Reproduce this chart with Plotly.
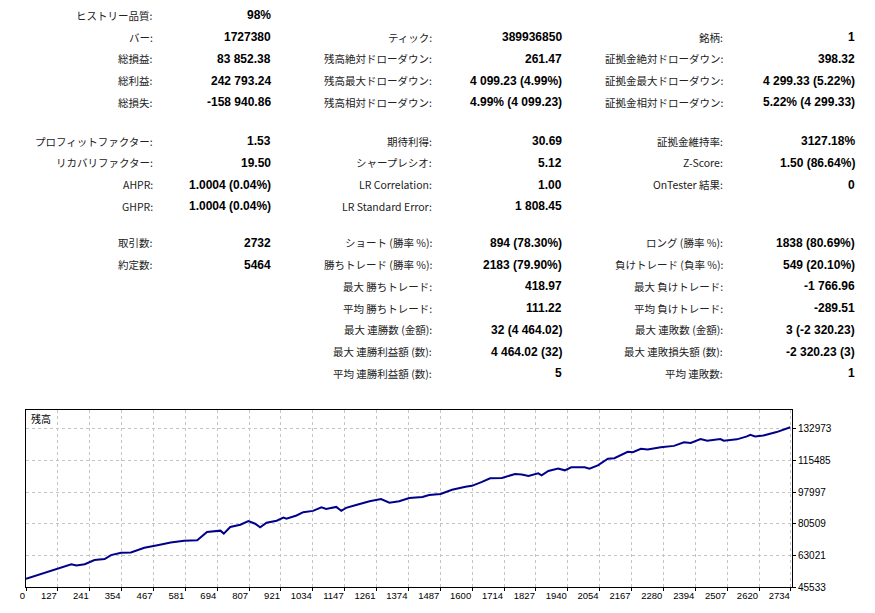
import plotly.graph_objects as go

# ---- 結果テーブル: [ラベル1, 値1, ラベル2, 値2, ラベル3, 値3] ----
block1 = [
    ["ヒストリー品質:", "98%", "", "", "", ""],
    ["バー:", "1727380", "ティック:", "389936850", "銘柄:", "1"],
    ["総損益:", "83 852.38", "残高絶対ドローダウン:", "261.47", "証拠金絶対ドローダウン:", "398.32"],
    ["総利益:", "242 793.24", "残高最大ドローダウン:", "4 099.23 (4.99%)", "証拠金最大ドローダウン:", "4 299.33 (5.22%)"],
    ["総損失:", "-158 940.86", "残高相対ドローダウン:", "4.99% (4 099.23)", "証拠金相対ドローダウン:", "5.22% (4 299.33)"],
]
block2 = [
    ["プロフィットファクター:", "1.53", "期待利得:", "30.69", "証拠金維持率:", "3127.18%"],
    ["リカバリファクター:", "19.50", "シャープレシオ:", "5.12", "Z-Score:", "1.50 (86.64%)"],
    ["AHPR:", "1.0004 (0.04%)", "LR Correlation:", "1.00", "OnTester 結果:", "0"],
    ["GHPR:", "1.0004 (0.04%)", "LR Standard Error:", "1 808.45", "", ""],
]
block3 = [
    ["取引数:", "2732", "ショート (勝率 %):", "894 (78.30%)", "ロング (勝率 %):", "1838 (80.69%)"],
    ["約定数:", "5464", "勝ちトレード (勝率 %):", "2183 (79.90%)", "負けトレード (負率 %):", "549 (20.10%)"],
    ["", "", "最大 勝ちトレード:", "418.97", "最大 負けトレード:", "-1 766.96"],
    ["", "", "平均 勝ちトレード:", "111.22", "平均 負けトレード:", "-289.51"],
    ["", "", "最大 連勝数 (金額):", "32 (4 464.02)", "最大 連敗数 (金額):", "3 (-2 320.23)"],
    ["", "", "最大 連勝利益額 (数):", "4 464.02 (32)", "最大 連敗損失額 (数):", "-2 320.23 (3)"],
    ["", "", "平均 連勝利益額 (数):", "5", "平均 連敗数:", "1"],
]

# ---- 残高カーブ ----
trade_no = [0, 44, 103, 162, 180, 210, 245, 281, 304, 340, 375, 423, 470, 517, 565, 612,
            647, 695, 707, 730, 766, 795, 819, 837, 860, 896, 920, 931, 967, 991, 1026,
            1056, 1073, 1109, 1127, 1144, 1180, 1228, 1269, 1299, 1334, 1370, 1417, 1441,
            1482, 1500, 1523, 1571, 1594, 1630, 1659, 1701, 1719, 1748, 1772, 1796, 1831,
            1843, 1867, 1902, 1926, 1949, 1997, 2014, 2044, 2080, 2103, 2151, 2169, 2198,
            2222, 2269, 2316, 2352, 2376, 2411, 2435, 2482, 2494, 2541, 2577, 2589, 2606,
            2636, 2683, 2732]
balance = [50000, 52260, 54990, 58100, 57390, 58100, 60450, 61000, 63180, 64500, 64660,
           67230, 68650, 70130, 71050, 71380, 75970, 76680, 75040, 78700, 79960, 81980,
           80510, 78490, 81060, 82150, 83950, 83240, 85050, 86900, 87610, 89630, 88710,
           89800, 87610, 89250, 90890, 92910, 94170, 92150, 92910, 94720, 95260, 96360,
           96900, 97830, 99260, 100900, 101440, 103630, 105650, 105810, 106580, 108000,
           107670, 106910, 108380, 107290, 109640, 110950, 110020, 111660, 111660, 110950,
           112750, 116420, 116740, 120240, 120020, 121880, 121500, 122750, 123520, 125490,
           125160, 127340, 126420, 127340, 126420, 127130, 128770, 129690, 128770, 129310,
           131160, 133852]

x_labels = ["0", "127", "241", "354", "467", "581", "694", "807", "921", "1034", "1147",
            "1261", "1374", "1487", "1600", "1714", "1827", "1940", "2054", "2167", "2280",
            "2394", "2507", "2620", "2734"]
y_ticks = [45533, 63021, 80509, 97997, 115485, 132973]

# page body has an 8px margin, so the figure is shrunk by that much
OFF = 8
W, H = 875, 613
L, R, T, B = 21, 83, 410, 24
x_max = 2738
x_step = 2734 / 24


def px(x):
    return (x - L) / (W - L - R)


def py(y):
    return (H - B - y) / (H - T - B)


label_font = dict(family="Noto Sans CJK JP", size=10.5, color="#222222")
value_font = dict(family="Liberation Sans", size=12, color="#000000")

label_right = [151, 432, 725]
value_right = [270, 563, 857]

annotations = []
for block, y0 in [(block1, 11), (block2, 138), (block3, 241)]:
    for i, row in enumerate(block):
        y = y0 + i * 22
        for c in range(3):
            lab, val = row[2 * c], row[2 * c + 1]
            if lab:
                annotations.append(dict(x=px(label_right[c]), y=py(y), text=lab,
                                        xanchor="right", yanchor="middle",
                                        font=label_font, showarrow=False,
                                        xref="paper", yref="paper"))
            if val:
                annotations.append(dict(x=px(value_right[c]), y=py(y), text="<b>" + val + "</b>",
                                        xanchor="right", yanchor="middle",
                                        font=value_font, showarrow=False,
                                        xref="paper", yref="paper"))

annotations.append(dict(x=px(24), y=py(419), text="残高", xanchor="left", yanchor="middle",
                        font=dict(family="Noto Sans CJK JP", size=10, color="#000000"),
                        showarrow=False, xref="paper", yref="paper"))

fig = go.Figure()
fig.add_trace(go.Scatter(x=trade_no, y=balance, mode="lines",
                         line=dict(color="#00008b", width=2), showlegend=False))

fig.update_layout(
    width=W - OFF, height=H - OFF,
    margin=dict(l=L - OFF, r=R, t=T - OFF, b=B, pad=0),
    paper_bgcolor="white", plot_bgcolor="white",
    annotations=annotations,
)
fig.update_xaxes(
    range=[0, x_max],
    tickvals=[k * x_step for k in range(len(x_labels))], ticktext=x_labels,
    ticklabelposition="outside left",
    showgrid=True, gridcolor="#c4c4c4", griddash="3px,3px", gridwidth=1,
    showline=True, linecolor="black", linewidth=1, mirror=True,
    ticks="outside", ticklen=3, tickcolor="black",
    tickfont=dict(family="Liberation Sans", size=9.5, color="black"),
    zeroline=False,
)
fig.update_yaxes(
    range=[45533, 143356], side="right",
    tickvals=y_ticks, ticktext=[str(v) for v in y_ticks],
    showgrid=True, gridcolor="#c4c4c4", griddash="3px,3px", gridwidth=1,
    showline=True, linecolor="black", linewidth=1, mirror=True,
    ticks="outside", ticklen=3, tickcolor="black",
    tickfont=dict(family="Liberation Sans", size=10, color="black"),
    zeroline=False,
)

fig.write_html("out.html")
